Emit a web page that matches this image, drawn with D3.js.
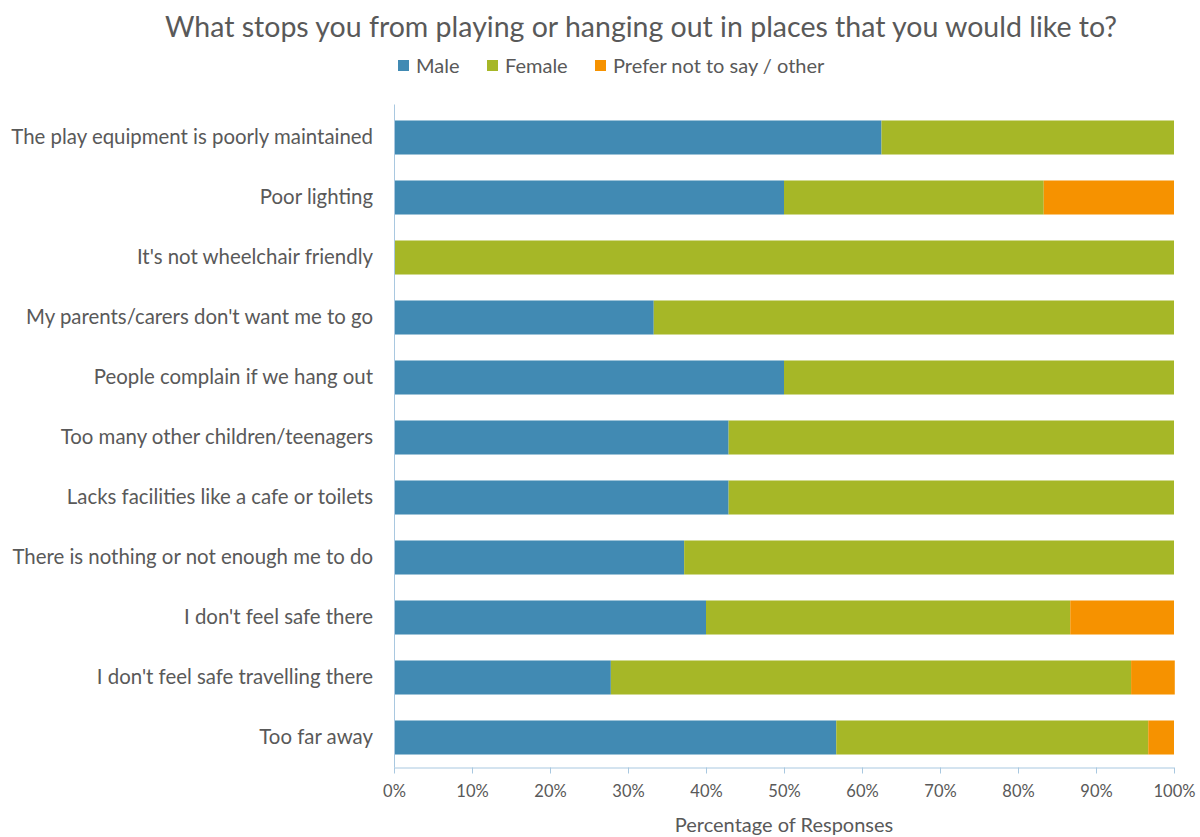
<!DOCTYPE html>
<html>
<head>
<meta charset="utf-8">
<script src="https://cdn.jsdelivr.net/npm/d3@7"></script>
<style>
  html, body { margin: 0; padding: 0; background: #fff; }
  svg { display: block; font-family: Lato, "Open Sans", sans-serif; }
</style>
</head>
<body>
<svg id="chart" width="1200" height="837"></svg>
<script>
// Survey categories (top to bottom)
const categories = [
  "The play equipment is poorly maintained",
  "Poor lighting",
  "It's not wheelchair friendly",
  "My parents/carers don't want me to go",
  "People complain if we hang out",
  "Too many other children/teenagers",
  "Lacks facilities like a cafe or toilets",
  "There is nothing or not enough me to do",
  "I don't feel safe there",
  "I don't feel safe travelling there",
  "Too far away"
];

// Share of responses per gender group (percent)
const male   = [62.5, 50.0,   0.0, 33.3, 50.0, 42.9, 42.9, 37.2, 40.0, 27.8, 56.7];
const female = [37.5, 33.3, 100.0, 66.7, 50.0, 57.1, 57.1, 62.8, 46.7, 66.7, 40.0];
const other  = [ 0.0, 16.7,   0.0,  0.0,  0.0,  0.0,  0.0,  0.0, 13.3,  5.6,  3.3];

const seriesNames = ["Male", "Female", "Prefer not to say / other"];
const seriesColors = ["#418AB3", "#A6B727", "#F69200"];
const tickValues = [0, 10, 20, 30, 40, 50, 60, 70, 80, 90, 100];

const title = "What stops you from playing or hanging out in places that you would like to?";
const xAxisTitle = "Percentage of Responses";

const svg = d3.select("#chart");
const textColor = "#595959";
const axisColor = "#A9C8E0";

const margin = { left: 394, right: 26, top: 107.5, bottom: 69.5 };
const W = 1200, H = 837;

const rows = categories.map((c, i) => ({
  category: c, Male: male[i], Female: female[i], "Prefer not to say / other": other[i]
}));

const stack = d3.stack().keys(seriesNames);
const layers = stack(rows);

const x = d3.scaleLinear().domain([0, 100]).range([margin.left, W - margin.right]);
const y = d3.scaleBand().domain(categories)
  .range([margin.top, H - margin.bottom])
  .paddingInner(0.433).paddingOuter(0.2165);

// Title
svg.append("text")
  .attr("x", 641).attr("y", 37)
  .attr("text-anchor", "middle")
  .attr("fill", textColor)
  .style("font-size", "28.5px")
  .text(title);

// Legend
const legendX = [398, 487, 595];
const legend = svg.append("g");
seriesNames.forEach((name, i) => {
  const g = legend.append("g").attr("transform", `translate(${legendX[i]},0)`);
  g.append("rect").attr("x", 0).attr("y", 60).attr("width", 11).attr("height", 11)
    .attr("fill", seriesColors[i]);
  g.append("text").attr("x", 18).attr("y", 73)
    .attr("fill", textColor).style("font-size", "20px").text(name);
});

// Bars
svg.append("g")
  .selectAll("g")
  .data(layers)
  .join("g")
  .attr("fill", (d, i) => seriesColors[i])
  .selectAll("rect")
  .data(d => d)
  .join("rect")
  .attr("x", d => x(d[0]))
  .attr("y", d => y(d.data.category))
  .attr("width", d => Math.max(0, x(d[1]) - x(d[0])))
  .attr("height", y.bandwidth());

// Category axis
const yAxis = svg.append("g")
  .attr("transform", `translate(${margin.left},0)`)
  .call(d3.axisLeft(y).tickSize(0).tickPadding(21));
yAxis.select(".domain").attr("stroke", axisColor).attr("d", `M0.5,${margin.top - 3}V${H - margin.bottom}`);
yAxis.selectAll("text").attr("fill", textColor).style("font-size", "20.4px")
  .style("font-family", "Lato, 'Open Sans', sans-serif");

// Value axis
const xAxis = svg.append("g")
  .attr("transform", `translate(0,${H - margin.bottom})`)
  .call(d3.axisBottom(x).tickValues(tickValues).tickFormat(d => d + "%").tickSize(6).tickPadding(12));
xAxis.select(".domain").attr("stroke", axisColor).attr("d", `M${margin.left},0.5H${W - margin.right}`);
xAxis.selectAll(".tick line").attr("stroke", axisColor);
xAxis.selectAll("text").attr("fill", textColor).style("font-size", "16.5px")
  .style("font-family", "Lato, 'Open Sans', sans-serif");

// Axis title
svg.append("text")
  .attr("x", x(50)).attr("y", 832)
  .attr("text-anchor", "middle")
  .attr("fill", textColor)
  .style("font-size", "20px")
  .text(xAxisTitle);
</script>
</body>
</html>
